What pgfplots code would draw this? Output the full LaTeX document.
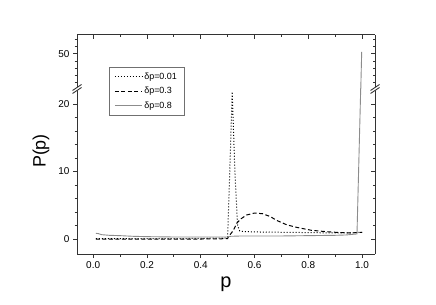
\documentclass[border=0pt]{standalone}
\usepackage{fontspec}
\setmainfont{Liberation Sans}
\usepackage{pgfplots}
\usepackage{pgfplotstable}
\pgfplotsset{compat=1.18}
\definecolor{axc}{gray}{0.2}
\definecolor{solidc}{gray}{0.55}

\pgfplotstableread{
p P
0.01 0.05
0.1 0.05
0.2 0.05
0.3 0.05
0.4 0.1
0.49 0.15
0.50 0.3
0.508 10
0.517 21.8
0.527 10
0.537 2.0
0.545 1.2
0.56 1.1
0.6 1.05
0.7 1.0
0.8 0.95
0.9 0.9
0.95 0.9
0.98 0.95
1.0 1.0
}\dotA

\pgfplotstableread{
p P
0.01 0
0.1 0
0.2 0
0.3 0
0.4 0
0.50 0.05
0.503 0.35
0.52 1.2
0.535 2.4
0.55 3.0
0.57 3.55
0.60 3.85
0.63 3.75
0.66 3.3
0.68 2.8
0.72 2.1
0.76 1.7
0.81 1.3
0.85 1.15
0.88 1.05
0.92 0.95
0.96 0.9
0.98 0.95
1.0 1.0
}\dashB

\pgfplotstableread{
p P
0.01 0.85
0.02 0.8
0.03 0.65
0.06 0.55
0.1 0.5
0.15 0.4
0.2 0.35
0.3 0.3
0.4 0.3
0.5 0.3
0.51 0.4
0.55 0.45
0.6 0.45
0.7 0.45
0.8 0.5
0.9 0.55
0.94 0.6
0.981 0.75
0.9949 22.4
0.995 40.1
0.9985 50.5
}\solidC

\begin{document}
\begin{tikzpicture}[x=1bp,y=1bp]
\path[use as bounding box] (0,0) rectangle (436,304);
\pgfplotsset{
  common/.style={
    scale only axis, width=298bp, xmin=-0.06, xmax=1.048,
    /pgf/number format/assume math mode=true,
    tick label style={font=\fontsize{10}{12}\selectfont, black},
    major tick length=4bp, minor tick length=2.5bp,
    tick style={axc, line width=0.8bp},
    xtick={0,0.2,0.4,0.6,0.8,1.0},
    minor xtick={0.1,0.3,0.5,0.7,0.9},
    x tick label style={/pgf/number format/.cd, fixed, fixed zerofill, precision=1},
  },
  nolinearrows/.style={
    axis line style={draw=axc, line width=1bp, -},
    every outer x axis line/.append style={-},
    every outer y axis line/.append style={-},
    every inner x axis line/.append style={-},
    every inner y axis line/.append style={-},
  },
  lowerax/.style={common, at={(77bp,50bp)}, anchor=south west, height=165bp,
    ymin=-2.22, ymax=22.22, ytick={0,10,20}, minor ytick={2,4,6,8,12,14,16,18}},
  upperax/.style={common, at={(77bp,215bp)}, anchor=south west, height=54bp,
    ymin=40.3, ymax=55.1, ytick={50}, minor ytick={42,44,46,48,52,54}},
  s1/.style={black, dotted, line width=1bp},
  s2/.style={black, dash pattern=on 4bp off 2.5bp, line width=1bp},
  s3/.style={solidc, line width=0.9bp},
}
% lower main
\begin{axis}[lowerax, axis x line=bottom, axis y line=left, tick align=outside, nolinearrows,
  xlabel={p}, xlabel style={at={(axis description cs:0.5,0)}, anchor=base, yshift=-33bp, font=\fontsize{20}{24}\selectfont},
  legend cell align=left,
  legend style={at={(axis description cs:0.107,1.133)}, anchor=north west, draw=axc!70, line width=0.8bp,
    font=\fontsize{9}{11}\selectfont, row sep=2.5bp, inner xsep=5bp, inner ysep=3.5bp},
  legend image code/.code={\draw[#1] (0bp,0bp) -- (27bp,0bp);}]
\addplot[s1] table[x=p,y=P] {\dotA};
\addlegendentry{δp=0.01}
\addplot[s2] table[x=p,y=P] {\dashB};
\addlegendentry{δp=0.3}
\addplot[s3] table[x=p,y=P] {\solidC};
\addlegendentry{δp=0.8}
\end{axis}
% lower overlay (right ticks)
\begin{axis}[lowerax, axis x line=none, axis y line=right, tick align=inside, yticklabels={}, nolinearrows]
\end{axis}
% upper main
\begin{axis}[upperax, axis x line=none, axis y line=left, tick align=outside, nolinearrows]
\addplot[s1] table[x=p,y=P] {\dotA};
\addplot[s2] table[x=p,y=P] {\dashB};
\addplot[s3] table[x=p,y=P] {\solidC};
\end{axis}
% upper overlay (top and right ticks)
\begin{axis}[upperax, axis x line=top, axis y line=right, tick align=inside, xticklabels={}, yticklabels={}, nolinearrows]
\end{axis}
% y label
\node[rotate=90, font=\fontsize{18}{22}\selectfont, anchor=center] at (41bp,153bp) {P(p)};
% break marks
\foreach \bx in {77,375}{
  \fill[white] (\bx-4.5,213.5-3.0) -- (\bx+4.5,213.5+3.0) -- (\bx+4.5,216.5+3.0) -- (\bx-4.5,216.5-3.0) -- cycle;
  \draw[axc, line width=0.9bp] (\bx-4.5,213.5-3.0) -- (\bx+4.5,213.5+3.0);
  \draw[axc, line width=0.9bp] (\bx-4.5,216.5-3.0) -- (\bx+4.5,216.5+3.0);
}
\end{tikzpicture}
\end{document}
